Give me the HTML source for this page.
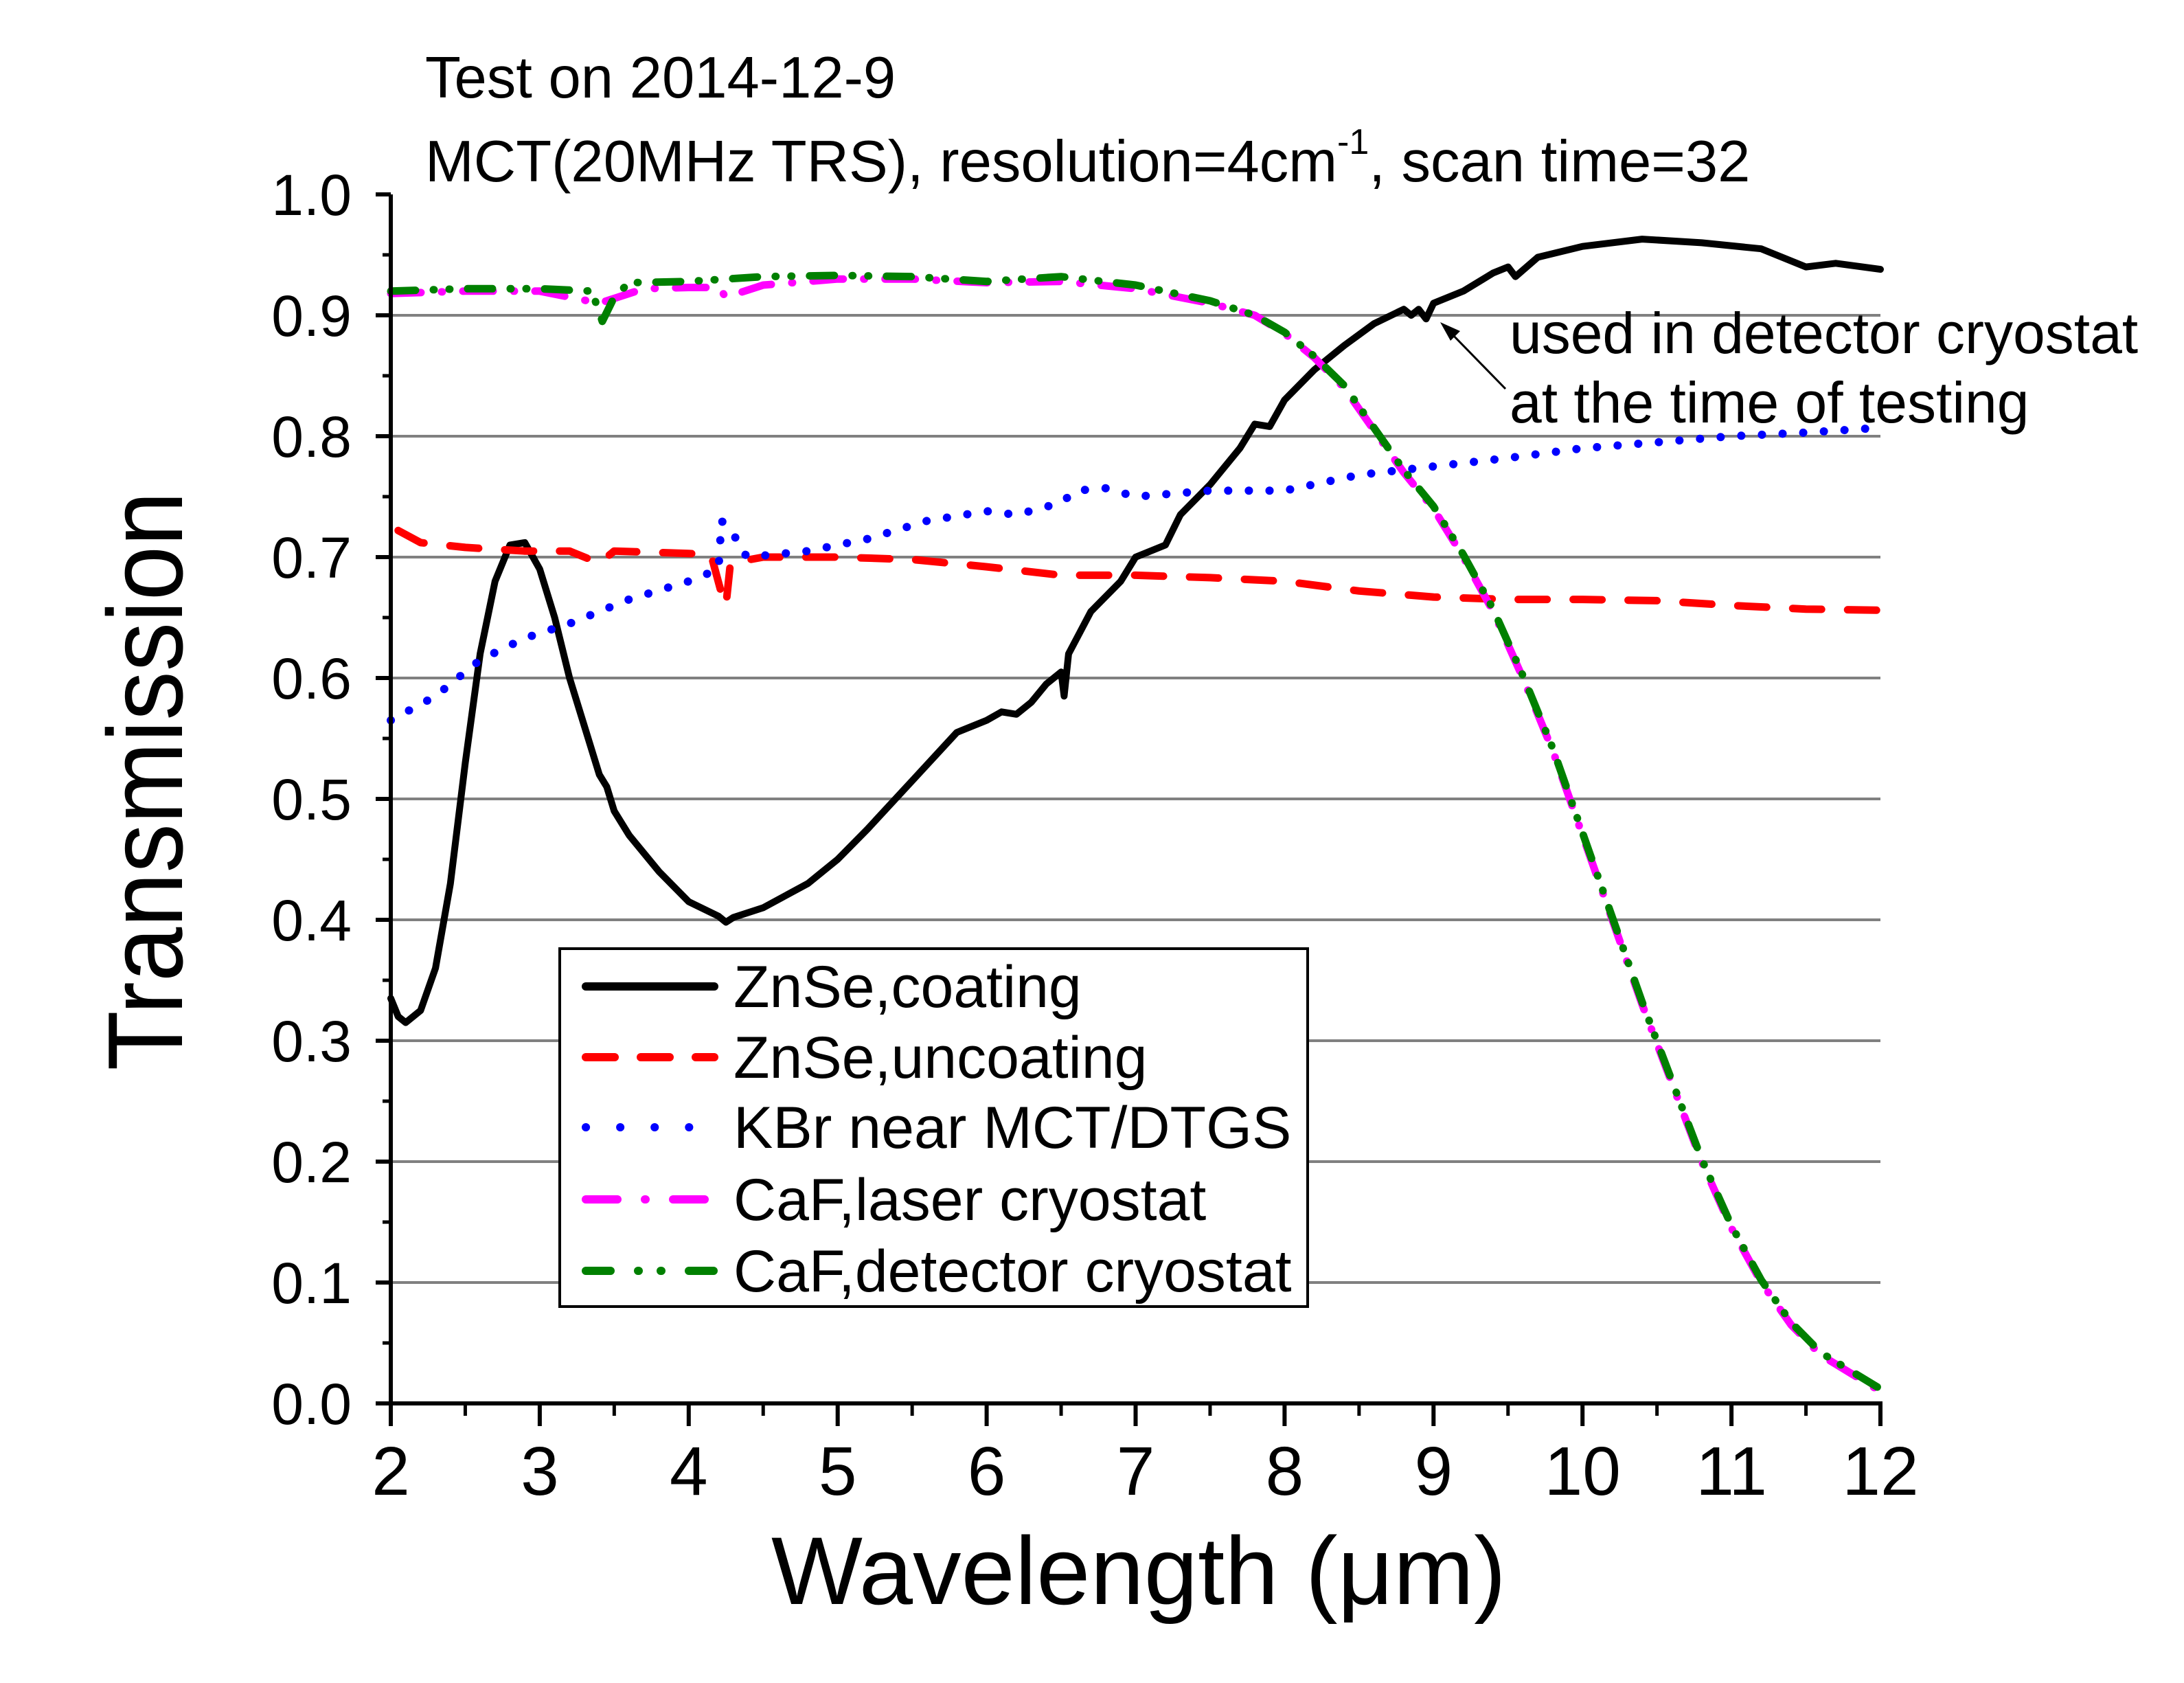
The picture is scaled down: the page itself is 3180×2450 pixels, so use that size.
<!DOCTYPE html>
<html><head><meta charset="utf-8"><style>html,body{margin:0;padding:0;background:#fff}svg{display:block}</style></head>
<body>
<svg id="chart" width="3180" height="2450" viewBox="0 0 3180 2450" xmlns="http://www.w3.org/2000/svg" font-family="Liberation Sans, sans-serif">
<rect width="3180" height="2450" fill="#fff"/>
<g id="grid"></g>
<g id="series"></g>
<g id="axes"></g>
<text x="619" y="142" font-size="85">Test on 2014-12-9</text>
<text x="619" y="264" font-size="85">MCT(20MHz TRS), resolution=4cm<tspan dy="-40" font-size="52">-1</tspan><tspan dy="40">, scan time=32</tspan></text>
<text transform="translate(265,1137) rotate(-90)" text-anchor="middle" font-size="155" textLength="843" lengthAdjust="spacingAndGlyphs">Transmission</text>
<text x="1658" y="2335" text-anchor="middle" font-size="140" textLength="1070" lengthAdjust="spacingAndGlyphs">Wavelength (μm)</text>
<text x="2198" y="514" font-size="84">used in detector cryostat</text>
<text x="2198" y="615" font-size="84">at the time of testing</text>
<g>
<line x1="2192" y1="566" x2="2110" y2="482" stroke="#000" stroke-width="3"/>
<polygon points="2097,469 2126,482 2112,496" fill="#000"/>
</g>
<g id="legend">
<rect x="815" y="1381" width="1089" height="521" fill="#fff" stroke="#000" stroke-width="4"/>
</g>
</svg>
<script>
const xTicks=[2,3,4,5,6,7,8,9,10,11,12];
const yTicks=[0.0,0.1,0.2,0.3,0.4,0.5,0.6,0.7,0.8,0.9,1.0];
const yTickLabels=["0.0","0.1","0.2","0.3","0.4","0.5","0.6","0.7","0.8","0.9","1.0"];
const seriesNames=["ZnSe,coating","ZnSe,uncoating","KBr near MCT/DTGS","CaF,laser cryostat","CaF,detector cryostat"];
const znseCoatX=[2.0,2.05,2.1,2.2,2.3,2.4,2.5,2.6,2.7,2.8,2.9,3.0,3.1,3.2,3.3,3.4,3.45,3.5,3.6,3.8,4.0,4.2,4.25,4.3,4.5,4.8,5.0,5.2,5.5,5.8,6.0,6.1,6.2,6.3,6.4,6.5,6.52,6.55,6.7,6.9,7.0,7.2,7.3,7.5,7.7,7.8,7.9,8.0,8.2,8.4,8.6,8.8,8.85,8.9,8.95,9.0,9.2,9.4,9.5,9.55,9.7,10.0,10.4,10.8,11.2,11.5,11.7,12.0];
const znseCoatY=[0.335,0.32,0.315,0.325,0.36,0.43,0.53,0.62,0.68,0.71,0.712,0.69,0.65,0.6,0.56,0.52,0.51,0.49,0.47,0.44,0.415,0.403,0.398,0.402,0.41,0.43,0.45,0.475,0.515,0.555,0.565,0.572,0.57,0.58,0.595,0.605,0.585,0.62,0.655,0.68,0.70,0.71,0.735,0.76,0.79,0.81,0.808,0.83,0.855,0.875,0.893,0.905,0.9,0.905,0.897,0.91,0.92,0.935,0.94,0.932,0.948,0.957,0.963,0.96,0.955,0.94,0.943,0.938];
const znseUncX=[2.05,2.2,2.5,2.9,3.2,3.4,3.5,4.0,4.15,4.22,4.25,4.28,4.5,5.0,5.5,6.0,6.5,7.0,7.5,8.0,8.5,9.0,9.5,10.0,10.5,11.0,11.5,12.0];
const znseUncY=[0.722,0.712,0.708,0.705,0.705,0.695,0.705,0.703,0.702,0.67,0.66,0.695,0.7,0.7,0.698,0.692,0.685,0.685,0.683,0.68,0.672,0.667,0.665,0.665,0.664,0.66,0.657,0.656];
const kbrX=[2.0,2.3,2.6,2.9,3.2,3.6,4.0,4.2,4.22,4.3,4.35,4.4,4.8,5.2,5.6,6.0,6.2,6.5,6.6,6.8,7.0,7.5,8.0,8.5,9.0,9.5,10.0,10.5,11.0,11.5,12.0];
const kbrY=[0.565,0.585,0.615,0.633,0.645,0.665,0.68,0.69,0.73,0.72,0.705,0.7,0.705,0.715,0.73,0.738,0.735,0.745,0.755,0.757,0.75,0.755,0.755,0.768,0.775,0.782,0.79,0.795,0.8,0.803,0.807];
const cafLaserX=[2.0,2.5,3.0,3.4,3.7,4.0,4.2,4.25,4.5,5.0,5.5,6.0,6.5,7.0,7.5,7.8,8.0,8.2,8.4,8.6,8.8,9.0,9.2,9.4,9.6,9.8,10.0,10.2,10.4,10.6,10.8,11.0,11.2,11.4,11.6,11.8,12.0];
const cafLaserY=[0.918,0.92,0.92,0.91,0.922,0.923,0.923,0.915,0.925,0.93,0.93,0.927,0.928,0.922,0.91,0.9,0.885,0.865,0.84,0.805,0.77,0.74,0.7,0.655,0.6,0.54,0.47,0.4,0.33,0.265,0.2,0.145,0.1,0.065,0.04,0.025,0.01];
const cafDetX=[2.0,2.5,3.0,3.35,3.42,3.5,3.6,4.0,4.5,5.0,5.5,6.0,6.5,7.0,7.5,7.8,8.0,8.2,8.4,8.6,8.8,9.0,9.2,9.4,9.6,9.8,10.0,10.2,10.4,10.6,10.8,11.0,11.2,11.4,11.6,11.8,12.0];
const cafDetY=[0.92,0.922,0.922,0.92,0.895,0.915,0.927,0.928,0.932,0.933,0.932,0.928,0.932,0.925,0.912,0.9,0.886,0.866,0.842,0.807,0.772,0.742,0.702,0.657,0.602,0.542,0.472,0.402,0.332,0.267,0.202,0.147,0.102,0.067,0.042,0.027,0.012];

const NS="http://www.w3.org/2000/svg";
const X0=569,X1=2738,Y0=2043,Y1=283;
function sx(v){return X0+(v-2)/(12-2)*(X1-X0);}
function sy(v){return Y0-(v-0)/(1-0)*(Y0-Y1);}
function mk(tag,attrs,parent){const e=document.createElementNS(NS,tag);for(const k in attrs)e.setAttribute(k,attrs[k]);parent.appendChild(e);return e;}
const grid=document.getElementById('grid'),axes=document.getElementById('axes'),series=document.getElementById('series'),legend=document.getElementById('legend');
yTicks.forEach((t,i)=>{
 if(t>0&&t<1){const g=mk('line',{x1:X0,x2:X1,y1:sy(t),y2:sy(t),stroke:'#808080','stroke-width':4},grid);
 
 }
 const tk=mk('line',{x1:X0-22,x2:X0,y1:sy(t),y2:sy(t),stroke:'#000','stroke-width':6},axes);
 
 
 const lb=mk('text',{x:512,y:sy(t)+30,'text-anchor':'end','font-size':84},axes);
 
 
 lb.textContent=yTickLabels[i];
 if(t<1){const m=mk('line',{x1:X0-12,x2:X0,y1:sy(t+0.05),y2:sy(t+0.05),stroke:'#000','stroke-width':5},axes);
 
 }
});
xTicks.forEach((t,i)=>{
 const tk=mk('line',{x1:sx(t),x2:sx(t),y1:Y0,y2:Y0+33,stroke:'#000','stroke-width':6},axes);
 
 
 const lb=mk('text',{x:sx(t),y:2176,'text-anchor':'middle','font-size':100},axes);
 
 
 lb.textContent=String(t);
 if(t<12){const m=mk('line',{x1:sx(t+0.5),x2:sx(t+0.5),y1:Y0,y2:Y0+18,stroke:'#000','stroke-width':5},axes);
 
 }
});
const ya=mk('line',{x1:X0,x2:X0,y1:Y1,y2:Y0+3,stroke:'#000','stroke-width':6},axes);


const xa=mk('line',{x1:X0-3,x2:X1+3,y1:Y0,y2:Y0,stroke:'#000','stroke-width':6},axes);



const styles=[
 {c:'#000',w:10,d:'',cap:'round'},
 {c:'#ff0000',w:11,d:'42 38',cap:'round'},
 {c:'#0000ff',w:12,d:'0.1 30',cap:'round'},
 {c:'#ff00ff',w:11,d:'44 30 1 30',cap:'round'},
 {c:'#008000',w:11,d:'36 26 1 22 1 26',cap:'round'}];
const allX=[znseCoatX,znseUncX,kbrX,cafLaserX,cafDetX],allY=[znseCoatY,znseUncY,kbrY,cafLaserY,cafDetY];
const keys=['znse-coating','znse-uncoating','kbr','caf-laser','caf-detector'];
allX.forEach((xs,s)=>{
 const d=xs.map((x,i)=>(i?'L':'M')+sx(x).toFixed(1)+' '+sy(allY[s][i]).toFixed(1)).join(' ');
 const st=styles[s];
 const p=mk('path',{d:d,fill:'none',stroke:st.c,'stroke-width':st.w,'stroke-linecap':st.cap,'stroke-linejoin':'round'},series);
 if(st.d)p.setAttribute('stroke-dasharray',st.d);
 
 
});
const lbase=[1466,1569,1671,1776,1880];
const ldash=['', '42 38','0.1 50','46 40 1 40','36 40 1 32 1 40'];
seriesNames.forEach((n,i)=>{
 const st=styles[i];
 const ln=mk('line',{x1:853,x2:1040,y1:lbase[i]-30,y2:lbase[i]-30,stroke:st.c,'stroke-width':12,'stroke-linecap':'round'},legend);
 if(ldash[i])ln.setAttribute('stroke-dasharray',ldash[i]);
 
 
 const t=mk('text',{x:1068,y:lbase[i],'font-size':86},legend);
 
 
 t.textContent=n;
});
</script>
</body></html>
